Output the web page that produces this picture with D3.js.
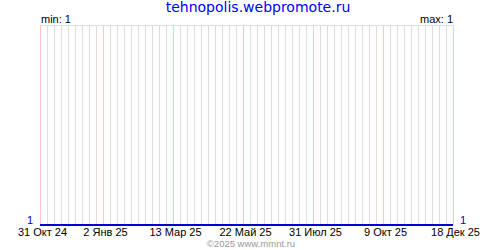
<!DOCTYPE html>
<html><head><meta charset="utf-8">
<script src="https://cdn.jsdelivr.net/npm/d3@7"></script>
<style>body{margin:0;background:#fff}svg{display:block}</style>
</head><body>
<script>
const title = "tehnopolis.webpromote.ru";
const credit = "©2025 www.mmnt.ru";
const dates = ["2024-10-31", "2025-12-18"];
const values = [1, 1];
const tickDates = ["2024-10-31","2025-01-02","2025-03-13","2025-05-22","2025-07-31","2025-10-09","2025-12-18"];
const tickLabels = ["31 Окт 24","2 Янв 25","13 Мар 25","22 Май 25","31 Июл 25","9 Окт 25","18 Дек 25"];

const W = 500, H = 250;
const m = {left: 40, right: 47, top: 25, bottom: 25};
const parse = d3.timeParse("%Y-%m-%d");
const data = dates.map((d, i) => ({date: parse(d), value: values[i]}));
const minV = d3.min(values), maxV = d3.max(values);

const svg = d3.select("body").append("svg").attr("width", W).attr("height", H);

const x = d3.scaleTime().domain(d3.extent(data, d => d.date)).range([m.left, W - m.right]);
const y = d3.scaleLinear().domain([minV, maxV > minV ? maxV : minV + 1]).range([H - m.bottom, m.top]);

const font = "DejaVu Sans, Verdana, sans-serif";
const small = "Liberation Sans, Arial, sans-serif";

// weekly grid
const [d0, d1] = x.domain();
const weeks = [];
for (let t = d0; t <= d1; t = d3.timeDay.offset(t, 7)) weeks.push(t);
svg.append("g").selectAll("line").data(weeks).join("line")
  .attr("x1", d => Math.round(x(d)) + 0.5).attr("x2", d => Math.round(x(d)) + 0.5)
  .attr("y1", m.top).attr("y2", H - m.bottom)
  .attr("stroke", "#dddddd").attr("stroke-width", 1);

// top border
svg.append("line").attr("x1", m.left).attr("x2", W - m.right + 1)
  .attr("y1", m.top + 0.5).attr("y2", m.top + 0.5).attr("stroke", "#dddddd");

// major grid
const ticks = tickDates.map(parse);
svg.append("g").selectAll("line").data(ticks).join("line")
  .attr("x1", d => Math.round(x(d)) + 0.5).attr("x2", d => Math.round(x(d)) + 0.5)
  .attr("y1", m.top).attr("y2", H - m.bottom)
  .attr("stroke", "#ffc4c4").attr("stroke-width", 1);

// x axis labels
const xAxis = d3.axisBottom(x).tickValues(ticks).tickSize(0).tickPadding(0)
  .tickFormat((d, i) => tickLabels[i]);
const gx = svg.append("g").attr("transform", `translate(2,${H - m.bottom})`).call(xAxis);
gx.select(".domain").remove();
gx.selectAll("text").attr("dy", null).attr("y", 10.5).attr("font-family", small).attr("font-size", 11).attr("fill", "#000");

// line
const line = d3.line().x(d => x(d.date)).y(d => Math.round(y(d.value)));
svg.append("path").datum(data).attr("d", line).attr("fill", "none")
  .attr("stroke", "#0000d0").attr("stroke-width", 2);

// value labels
svg.append("text").attr("x", m.left - 7).attr("y", y(data[0].value) - 1).attr("text-anchor", "end")
  .attr("font-family", small).attr("font-size", 11).attr("fill", "#0000cc").text(data[0].value);
svg.append("text").attr("x", W - m.right + 7).attr("y", y(data[data.length-1].value) - 1)
  .attr("font-family", small).attr("font-size", 11).attr("fill", "#0000cc").text(data[data.length-1].value);

// min/max
svg.append("text").attr("x", m.left + 1).attr("y", m.top - 2)
  .attr("font-family", small).attr("font-size", 11).attr("fill", "#000").text("min: " + minV);
svg.append("text").attr("x", W - m.right).attr("y", m.top - 2).attr("text-anchor", "end")
  .attr("font-family", small).attr("font-size", 11).attr("fill", "#000").text("max: " + maxV);

// title
svg.append("text").attr("x", W / 2 + 8).attr("y", 12).attr("text-anchor", "middle")
  .attr("font-family", font).attr("font-size", 14).attr("fill", "#0000ff").text(title);

// credit
svg.append("text").attr("x", W / 2 + 1).attr("y", 246.5).attr("text-anchor", "middle")
  .attr("font-family", small).attr("font-size", 9.5).attr("fill", "#999").text(credit);
</script>
</body></html>
